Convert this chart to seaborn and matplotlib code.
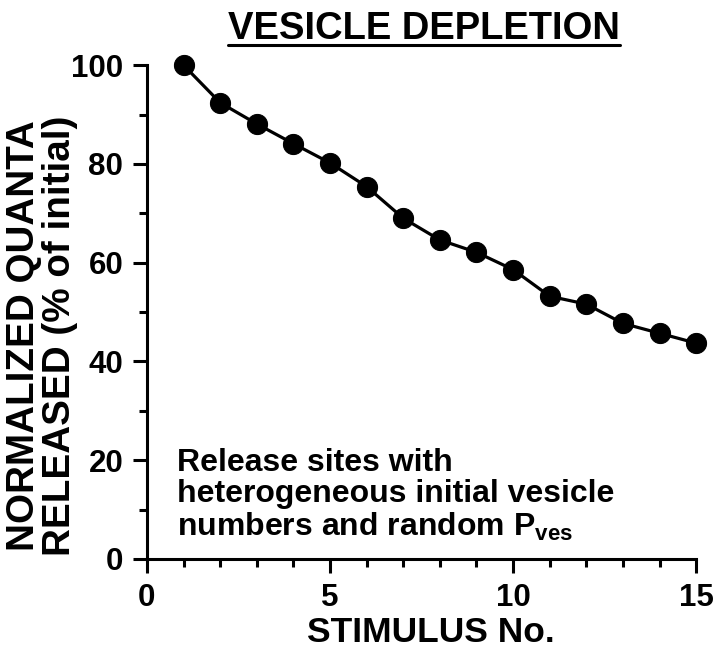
import pandas as pd
import seaborn as sns
import matplotlib.pyplot as plt
from matplotlib.ticker import MultipleLocator
from matplotlib.lines import Line2D

stimulus = [1, 2, 3, 4, 5, 6, 7, 8, 9, 10, 11, 12, 13, 14, 15]
quanta = [100.0, 92.4, 88.1, 84.1, 80.2, 75.4, 69.0, 64.6, 62.1, 58.6,
          53.2, 51.6, 47.7, 45.7, 43.7]

x_ticks = [0, 5, 10, 15]
y_ticks = [0, 20, 40, 60, 80, 100]

df = pd.DataFrame({'stimulus': stimulus, 'quanta': quanta})

sns.set_style('ticks')
plt.rcParams['font.family'] = ['Liberation Sans', 'DejaVu Sans']
plt.rcParams['font.weight'] = 'bold'
plt.rcParams['mathtext.fontset'] = 'custom'
plt.rcParams['mathtext.rm'] = 'Liberation Sans:bold'
for k in ['text.color', 'axes.labelcolor', 'xtick.color', 'ytick.color',
          'axes.edgecolor']:
    plt.rcParams[k] = 'black'

fig = plt.figure(figsize=(7.2, 6.58), dpi=100)
ax = fig.add_axes([0.204, 0.1505, 0.763, 0.7505])

sns.lineplot(data=df, x='stimulus', y='quanta', ax=ax, color='black',
             linewidth=2.3, marker='o', markersize=14.5,
             markeredgecolor='black', markerfacecolor='black', clip_on=False)

ax.set_xlim(0, 15)
ax.set_ylim(0, 100)
ax.set_xticks(x_ticks)
ax.set_yticks(y_ticks)
ax.xaxis.set_minor_locator(MultipleLocator(1))
ax.yaxis.set_minor_locator(MultipleLocator(10))
sns.despine(ax=ax)
for s in ['left', 'bottom']:
    ax.spines[s].set_linewidth(2.2)
ax.tick_params(which='major', length=10, width=2.2, labelsize=22.5, pad=7)
ax.tick_params(which='minor', length=5.5, width=2.2)
ax.tick_params(axis='x', which='major', pad=7)
ax.set_xlabel('')
ax.set_ylabel('')

fig.text(0.598, 0.024, 'STIMULUS No.', ha='center', va='baseline',
         fontsize=25.5, fontweight='bold')
fig.text(0.058, 0.49, 'NORMALIZED QUANTA\nRELEASED (% of initial)',
         rotation=90, ha='center', va='center', fontsize=27.8,
         fontweight='bold', linespacing=1.0)

fig.text(0.589, 0.94, 'VESICLE DEPLETION', ha='center', va='baseline',
         fontsize=27.5, fontweight='bold')
fig.add_artist(Line2D([228 / 720, 620 / 720], [0.931, 0.931],
                      color='black', linewidth=2.2))

ax.text(0.82, 22.5, 'Release sites with\nheterogeneous initial vesicle\n'
        'numbers and random P$_{\\rm ves}$', ha='left', va='top',
        fontsize=23, fontweight='bold', linespacing=1.05)

fig.savefig('out.png', dpi=100)
